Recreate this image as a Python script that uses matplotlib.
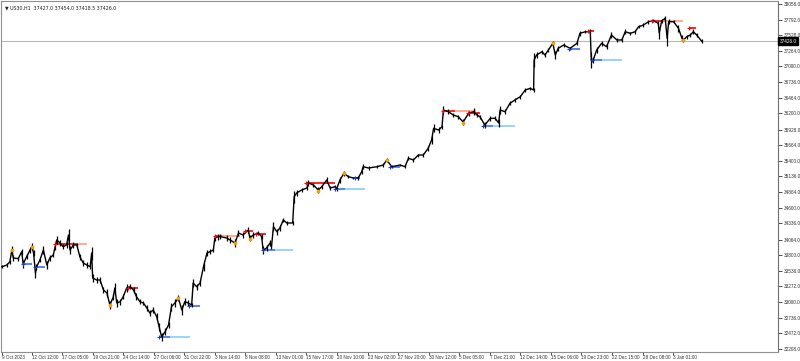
import matplotlib.pyplot as plt

# -------------------------------
# DATA (US30 H1, bar index counted from 9 Oct 2023)
# -------------------------------
bars = [0, 10, 16, 20, 23, 33, 40, 43, 50, 57, 61, 64, 68, 70, 77, 84, 91, 97, 104, 108,
        111, 118, 124, 131, 135, 138, 145, 152, 158, 165, 172, 179, 182, 184, 192, 199, 206, 213, 219, 226,
        229, 233, 240, 246, 253, 260, 267, 273, 280, 287, 294, 300, 307, 314, 319, 324, 331, 338, 344, 351,
        358, 365, 371, 378, 385, 388, 395, 402, 409, 416, 422, 429, 432, 439, 443, 456, 463, 473, 480, 489,
        500, 503, 510, 520, 527, 530, 537, 544, 547, 551, 558, 564, 571, 578, 590, 593, 598, 608, 619, 622,
        632, 642, 649, 659, 666, 676, 679, 686, 694, 703, 713, 723, 730, 733, 744, 761, 774, 781, 791, 808,
        818, 825, 835, 845, 855, 865, 872, 876, 886, 893, 896, 906, 916, 926, 936, 947, 957, 964, 970, 980,
        991, 1001, 1008, 1011, 1021, 1031, 1041, 1052, 1062, 1072, 1079, 1080, 1085, 1096, 1102, 1109, 1118, 1123, 1129, 1140,
        1153, 1167, 1173, 1184, 1194, 1196, 1200, 1207, 1217, 1227, 1237, 1248, 1258, 1265, 1275, 1285, 1292, 1302, 1312, 1322,
        1332, 1334, 1339, 1346, 1350, 1353, 1363, 1373, 1380, 1383, 1390, 1397, 1403, 1410, 1420]
close = [33603, 33632, 33688, 33886, 33750, 33740, 33857, 33649, 33772, 33886, 33942, 33835, 33496, 33598, 33717, 33886, 33632, 33750, 33801, 33942,
         34056, 34005, 33942, 33971, 34140, 33886, 33971, 33971, 33772, 33666, 33632, 33603, 33835, 33411, 33378, 33378, 33208, 33157, 32954, 33094,
         33242, 32988, 33010, 33094, 33242, 33264, 33208, 33094, 33010, 32988, 32903, 32818, 32869, 32755, 32586, 32411, 32501, 32615, 32925, 32988,
         33072, 32869, 33010, 32988, 32954, 33327, 33264, 33327, 33603, 33835, 33857, 33886, 34090, 34112, 34112, 34090, 34056, 34005, 34174, 34140,
         34225, 34090, 34140, 34174, 34112, 33886, 33920, 34005, 33942, 34281, 34196, 34259, 34395, 34344, 34344, 34790, 34852, 34903, 34937, 35022,
         34988, 34903, 34959, 35073, 34937, 34959, 34920, 35073, 35186, 35129, 35107, 35107, 35213, 35298, 35276, 35298, 35327, 35412, 35298, 35327,
         35298, 35441, 35412, 35496, 35496, 35610, 35751, 35949, 35920, 35976, 36259, 36230, 36174, 36146, 36056, 36203, 36230, 36174, 36146, 36005,
         36118, 36118, 36039, 36259, 36230, 36373, 36429, 36485, 36598, 36627, 36598, 37107, 37192, 37247, 37192, 37276, 37390, 37192, 37305, 37361,
         37305, 37390, 37559, 37586, 37586, 37107, 37107, 37276, 37390, 37332, 37530, 37446, 37446, 37586, 37559, 37586, 37671, 37700, 37756, 37773,
         37729, 37564, 37773, 37814, 37475, 37756, 37756, 37644, 37475, 37446, 37502, 37530, 37586, 37530, 37426]
# high-low range of the candles around each reading (points)
bar_range = [60, 80, 70, 120, 90, 70, 100, 130, 80, 90, 110, 90, 180, 100, 80, 120, 140, 90, 80, 110,
             120, 90, 80, 100, 200, 120, 90, 80, 100, 110, 90, 80, 220, 120, 100, 90, 110, 120, 150, 100,
             160, 120, 100, 90, 120, 80, 100, 110, 90, 80, 110, 90, 100, 120, 130, 150, 110, 100, 140, 120,
             110, 160, 120, 90, 80, 150, 100, 110, 130, 90, 80, 70, 90, 100, 80, 90, 110, 120, 100, 90,
             110, 90, 100, 80, 90, 140, 100, 110, 90, 150, 100, 90, 80, 70, 80, 200, 90, 80, 70, 100,
             80, 90, 70, 110, 80, 70, 60, 90, 80, 60, 50, 60, 70, 90, 60, 50, 60, 70, 60, 50,
             60, 70, 60, 50, 60, 80, 120, 140, 90, 70, 130, 90, 80, 70, 90, 80, 110, 80, 70, 90,
             80, 70, 130, 120, 80, 70, 60, 70, 60, 60, 70, 250, 90, 70, 80, 70, 90, 120, 80, 70,
             60, 70, 90, 60, 80, 260, 90, 110, 80, 90, 100, 80, 70, 80, 60, 70, 60, 60, 70, 60,
             90, 200, 70, 80, 250, 90, 60, 110, 100, 80, 70, 80, 90, 70, 60]

# fractal points (orange)
frac_bars = [20, 61, 219, 358, 473, 503, 642, 694, 781, 936, 1118, 1383]
frac_price = [33886, 33942, 32954, 33072, 34005, 34072, 34886, 35186, 35412, 36047, 37390, 37446]

# resistance levels: price, start bar, end of bright part, end bar
res_price = [33994, 33237, 34123, 34213, 34157, 35027, 36242, 36208, 37598, 37773, 37644]
res_start = [108, 256, 432, 493, 516, 617, 895, 946, 1190, 1320, 1395]
res_mid = [152, 277, 447, 510, 536, 676, 920, 970, 1202, 1342, 1409]
res_end = [173, 277, 483, 510, 536, 676, 962, 970, 1202, 1383, 1409]

# support levels
sup_price = [33649, 33593, 32411, 32932, 33886, 34915, 35101, 35288, 35993, 37293, 37107]
sup_start = [42, 67, 319, 380, 530, 676, 717, 788, 977, 1150, 1197]
sup_mid = [60, 87, 341, 401, 554, 696, 727, 808, 997, 1173, 1218]
sup_end = [60, 87, 382, 401, 591, 737, 727, 808, 1041, 1173, 1258]

y_ticks = [38056, 37792, 37528, 37264, 37000, 36736, 36464, 36200, 35928, 35664, 35400, 35136,
           34864, 34600, 34336, 34064, 33800, 33536, 33272, 33000, 32736, 32472, 32208]
x_labels = ["9 Oct 2023", "12 Oct 12:00", "17 Oct 05:00", "19 Oct 21:00", "24 Oct 14:00", "27 Oct 06:00",
            "31 Oct 22:00", "3 Nov 14:00", "8 Nov 08:00", "13 Nov 01:00", "15 Nov 17:00", "20 Nov 10:00",
            "23 Nov 02:00", "27 Nov 20:00", "30 Nov 12:00", "5 Dec 05:00", "7 Dec 21:00", "12 Dec 14:00",
            "15 Dec 06:00", "19 Dec 23:00", "22 Dec 15:00", "28 Dec 08:00", "3 Jan 01:00"]
x_ticks = [0] + [60 + 62 * k for k in range(len(x_labels) - 1)]

last_price = 37426.0
header = "\u25bc US30,H1  37427.0 37454.0 37418.5 37426.0"

# -------------------------------
# PLOT
# -------------------------------
plt.rcParams['font.family'] = ['Liberation Sans', 'DejaVu Sans']

fig = plt.figure(figsize=(8, 3.61), dpi=100)
ax = fig.add_axes([1 / 800, 9 / 361, 777 / 800, 351 / 361])

ax.axhline(last_price, color='#b8b8b8', lw=0.8, zorder=1)

for p, s, m, e in zip(res_price, res_start, res_mid, res_end):
    ax.hlines(p, s, m, color='#ff0000', lw=1.2, zorder=2)
    if e > m:
        ax.hlines(p, m, e, color='#ffa07a', lw=1.2, zorder=2)
    ax.plot(s, p, marker='+', color='#ff0000', ms=3, mew=0.8, zorder=4)

for p, s, m, e in zip(sup_price, sup_start, sup_mid, sup_end):
    ax.hlines(p, s, m, color='#3c6ee6', lw=1.2, zorder=2)
    if e > m:
        ax.hlines(p, m, e, color='#87cefa', lw=1.2, zorder=2)
    ax.plot(s, p, marker='+', color='#1e3cc8', ms=3, mew=0.8, zorder=4)

lows = [c - r / 2 for c, r in zip(close, bar_range)]
highs = [c + r / 2 for c, r in zip(close, bar_range)]
ax.vlines(bars, lows, highs, color='black', lw=0.9, zorder=3)
ax.plot(bars, close, color='black', lw=1.0, zorder=3)
ax.plot(frac_bars, frac_price, 'o', color='#ffa500', ms=2.2, mec='#e69500', mew=0.5, zorder=5)

ax.set_xlim(-2, 1575)
ax.set_ylim(32157.1, 38106.9)

ax.yaxis.tick_right()
ax.set_yticks(y_ticks)
ax.set_yticklabels([f"{v:.1f}" for v in y_ticks])
ax.set_xticks(x_ticks)
ax.set_xticklabels(x_labels)
for lab in ax.get_xticklabels():
    lab.set_ha('left')
ax.tick_params(axis='y', direction='out', length=3, width=0.6, pad=1.5, labelsize=3.4, colors='#303030')
ax.tick_params(axis='x', direction='out', length=2, width=0.6, pad=0.5, labelsize=3.3, colors='#303030')

for side in ['left', 'top', 'bottom']:
    ax.spines[side].set_color('#909090')
    ax.spines[side].set_linewidth(0.8)
ax.spines['right'].set_color('#707070')
ax.spines['right'].set_linewidth(0.8)

# current price tag
ax.text(1.002, last_price, f"{last_price:.1f}", transform=ax.get_yaxis_transform(),
        ha='left', va='center', fontsize=3.4, color='white',
        bbox=dict(boxstyle='square,pad=0.25', fc='black', ec='black'), zorder=6, clip_on=False)

fig.text(0.006, 0.985, header, ha='left', va='top', fontsize=3.4, color='#202020',
         family=['DejaVu Sans'])

fig.savefig("out.png", dpi=100)
